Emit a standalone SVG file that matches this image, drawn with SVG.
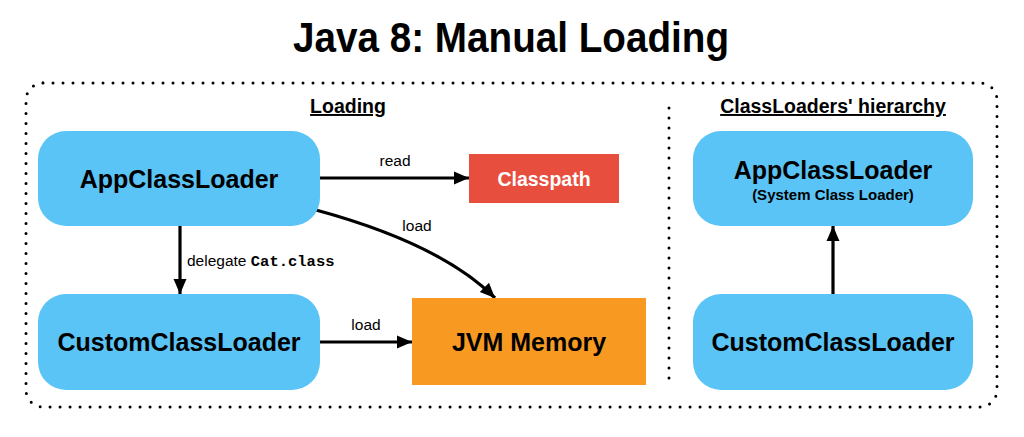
<svg xmlns="http://www.w3.org/2000/svg" width="1024" height="437" viewBox="0 0 1024 437">
  <style>
    .t { font-family: "Liberation Sans", Arial, sans-serif; fill: #000; }
    .title { font-size: 42px; font-weight: bold; }
    .sec { font-size: 19.5px; font-weight: bold; text-decoration: underline; }
    .node { font-size: 25px; font-weight: bold; }
    .sub { font-size: 15px; font-weight: bold; }
    .lbl { font-size: 15.5px; }
    .mono { font-family: "Liberation Mono", "Courier New", monospace; font-weight: bold; font-size: 15.5px; }
    .blue { fill: #5AC4F6; }
    .dots { fill: none; stroke: #000; stroke-width: 3; stroke-linecap: round; stroke-dasharray: 0 10; }
    .edge { fill: none; stroke: #000; stroke-width: 3.2; marker-end: url(#arrow); }
  </style>
  <defs>
    <marker id="arrow" markerUnits="userSpaceOnUse" markerWidth="16" markerHeight="16" viewBox="0 0 16 16" refX="15" refY="8" orient="auto">
      <path d="M0,1.5 L15,8 L0,14.5 Z" fill="#000"/>
    </marker>
  </defs>
  <rect width="1024" height="437" fill="#fff"/>

  <text class="t title" x="511" y="52" text-anchor="middle" textLength="436" lengthAdjust="spacingAndGlyphs">Java 8: Manual Loading</text>

  <g id="frame">
    <rect class="dots" x="26" y="83" width="971" height="324" rx="17"/>
    <line class="dots" x1="669" y1="108" x2="669" y2="382"/>
    <text class="t sec" x="348" y="113" text-anchor="middle">Loading</text>
    <text class="t sec" x="833" y="113" text-anchor="middle">ClassLoaders' hierarchy</text>
  </g>

  <g id="connectors">
    <line class="edge" x1="320" y1="178" x2="469" y2="178"/>
    <text class="t lbl" x="395" y="166" text-anchor="middle">read</text>
    <path class="edge" d="M316,210 Q441,244 495,298"/>
    <text class="t lbl" x="417" y="231" text-anchor="middle">load</text>
    <line class="edge" x1="180" y1="226" x2="180" y2="294"/>
    <text class="t lbl" x="187" y="266">delegate <tspan class="mono">Cat.class</tspan></text>
    <line class="edge" x1="320" y1="342" x2="412" y2="342"/>
    <text class="t lbl" x="366" y="330" text-anchor="middle">load</text>
    <line class="edge" x1="833" y1="294" x2="833" y2="226"/>
  </g>

  <g id="app-left">
    <rect class="blue" x="38" y="131" width="282" height="95" rx="28"/>
    <text class="t node" x="179" y="188" text-anchor="middle">AppClassLoader</text>
  </g>
  <g id="custom-left">
    <rect class="blue" x="38" y="294" width="282" height="96" rx="28"/>
    <text class="t node" x="179" y="351" text-anchor="middle">CustomClassLoader</text>
  </g>
  <g id="classpath">
    <rect x="469" y="154" width="150" height="49" fill="#E84E3E"/>
    <text class="t" x="544" y="186" text-anchor="middle" font-size="19.5" font-weight="bold" style="fill:#fff">Classpath</text>
  </g>
  <g id="jvm-memory">
    <rect x="412" y="298" width="234" height="87" fill="#F89A22"/>
    <text class="t node" x="529" y="351" text-anchor="middle">JVM Memory</text>
  </g>
  <g id="app-right">
    <rect class="blue" x="693" y="131" width="280" height="95" rx="28"/>
    <text class="t node" x="833" y="179" text-anchor="middle">AppClassLoader</text>
    <text class="t sub" x="833" y="200" text-anchor="middle">(System Class Loader)</text>
  </g>
  <g id="custom-right">
    <rect class="blue" x="693" y="294" width="280" height="96" rx="28"/>
    <text class="t node" x="833" y="351" text-anchor="middle">CustomClassLoader</text>
  </g>
</svg>
